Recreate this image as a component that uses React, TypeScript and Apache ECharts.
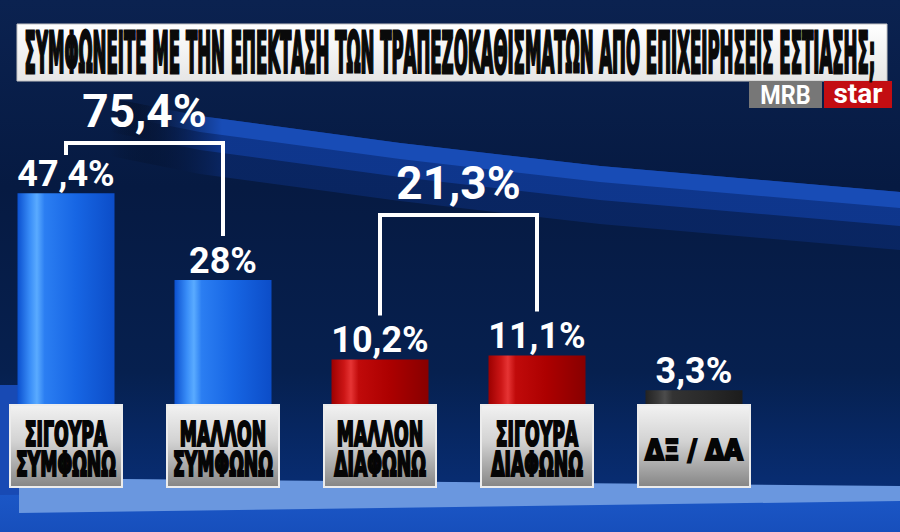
import React, { useEffect, useRef } from "react";
import * as echarts from "echarts";

const titleText = "ΣΥΜΦΩΝΕΙΤΕ ΜΕ ΤΗΝ ΕΠΕΚΤΑΣΗ ΤΩΝ ΤΡΑΠΕΖΟΚΑΘΙΣΜΑΤΩΝ ΑΠΟ ΕΠΙΧΕΙΡΗΣΕΙΣ ΕΣΤΙΑΣΗΣ;";
const categories = ["ΣΙΓΟΥΡΑ\nΣΥΜΦΩΝΩ", "ΜΑΛΛΟΝ\nΣΥΜΦΩΝΩ", "ΜΑΛΛΟΝ\nΔΙΑΦΩΝΩ", "ΣΙΓΟΥΡΑ\nΔΙΑΦΩΝΩ", "ΔΞ / ΔΑ"];
const values = [47.4, 28, 10.2, 11.1, 3.3];
const groupMembers = [[0, 1], [2, 3]];
const groupTotals = [75.4, 21.3];
const logoParts = ["MRB", "star"];

const barPalette = ["blue", "blue", "red", "red", "dark"];
const gradientStops: Record<string, string[]> = {
  blue: ["#0b50cf", "#3a8ef8", "#5aabff", "#2b7ef2", "#1766e4", "#0c4dc8"],
  red: ["#9c0000", "#cc1616", "#e63434", "#c00a0a", "#ac0000", "#880000"],
  dark: ["#222222", "#3a3a3a", "#4c4c4c", "#333333", "#2a2a2a", "#1c1c1c"],
};
const stopPos = [0, 0.13, 0.2, 0.28, 0.6, 1];

const fmt = (v: number) => `${String(v).replace(".", ",")}%`;

const barColor = (key: string) => ({
  type: "linear",
  x: 0,
  y: 0,
  x2: 1,
  y2: 0,
  colorStops: gradientStops[key].map((c, i) => ({ offset: stopPos[i], color: c })),
});

export default function App() {
  const ref = useRef<HTMLDivElement>(null);

  useEffect(() => {
    document.body.style.margin = "0";
    const chart = echarts.init(ref.current!, null, { renderer: "svg" });

    const valueFont = "Roboto, 'DejaVu Sans', sans-serif";

    chart.setOption({
      animation: false,
      backgroundColor: {
        type: "linear",
        x: 0,
        y: 0,
        x2: 0,
        y2: 1,
        colorStops: [
          { offset: 0, color: "#0b2250" },
          { offset: 0.35, color: "#061a42" },
          { offset: 0.7, color: "#06204f" },
          { offset: 0.9, color: "#082c70" },
          { offset: 1, color: "#0a3280" },
        ],
      },
      grid: { left: -12.5, right: 127.5, top: 137, bottom: 127, outerBoundsMode: "none" },
      xAxis: { type: "category", data: categories, show: false },
      yAxis: { type: "value", min: 0, max: 60, show: false },
      series: [
        {
          type: "bar",
          barWidth: 97,
          z: 2,
          data: values.map((v, i) => ({ value: v, itemStyle: { color: barColor(barPalette[i]) } })),
          label: {
            show: true,
            position: "top",
            distance: 1,
            color: "#ffffff",
            fontFamily: valueFont,
            fontWeight: "bold",
            fontSize: 36,
            formatter: (p: any) => fmt(p.value),
          },
        },
      ],
    });

    const ctx = document.createElement("canvas").getContext("2d")!;
    const measure = (t: string, font: string) => {
      ctx.font = font;
      return ctx.measureText(t).width;
    };

    const px = (i: number, v: number) => chart.convertToPixel({ seriesIndex: 0 }, [i, v]) as number[];
    const base = px(0, 0)[1];

    const g: any[] = [];

    // background swoosh band
    const topEdge: number[][] = [
      [110, 98],
      [200, 116],
      [400, 143],
      [600, 166],
      [900, 192],
      [910, 193],
    ];
    const band = (thick: number, color: string, z: number) => {
      const pts = topEdge.map((p) => [p[0], p[1]]).concat(
        topEdge
          .slice()
          .reverse()
          .map((p) => [p[0], p[1] + thick])
      );
      g.push({
        type: "polygon",
        z,
        silent: true,
        shape: { points: pts },
        style: {
          fill: {
            type: "linear",
            x: 0,
            y: 0,
            x2: 1,
            y2: 0,
            colorStops: [
              { offset: 0, color: "rgba(0,0,0,0)" },
              { offset: 0.14, color },
              { offset: 1, color },
            ],
          },
        },
      });
    };
    band(58, "rgba(10,40,105,0.8)", 0);
    band(34, "rgba(15,56,145,0.9)", 0);
    band(16, "rgba(24,76,182,1)", 0);

    // bottom floor
    g.push({ type: "rect", z: 0, silent: true, shape: { x: 0, y: 385, width: 19, height: 147 }, style: { fill: "#184ab4" } });
    g.push({
      type: "polygon",
      z: 0,
      silent: true,
      shape: { points: [[0, 495], [900, 488], [900, 532], [0, 532]] },
      style: {
        fill: {
          type: "linear",
          x: 0,
          y: 0,
          x2: 0,
          y2: 1,
          colorStops: [
            { offset: 0, color: "#1c58c8" },
            { offset: 1, color: "#174fbc" },
          ],
        },
      },
    });
    g.push({
      type: "polygon",
      z: 0,
      silent: true,
      shape: { points: [[19, 478], [900, 486], [900, 501], [19, 513]] },
      style: { fill: "#6a97df" },
    });

    // title bar
    g.push({
      type: "rect",
      z: 10,
      shape: { x: 17, y: 24, width: 870, height: 57 },
      style: {
        fill: {
          type: "linear",
          x: 0,
          y: 0,
          x2: 0,
          y2: 1,
          colorStops: [
            { offset: 0, color: "#ffffff" },
            { offset: 1, color: "#e6e6e6" },
          ],
        },
        stroke: "#c4c4c4",
        lineWidth: 1,
      },
    });
    const titleFont = "bold 56px 'DejaVu Sans Condensed', 'DejaVu Sans', sans-serif";
    const titleScale = 852 / measure(titleText, titleFont);
    g.push({
      type: "text",
      z: 11,
      x: 450,
      y: 54,
      scaleX: titleScale,
      style: {
        text: titleText,
        font: titleFont,
        fill: "#0a0a0a",
        stroke: "#0a0a0a",
        lineWidth: 3,
        align: "center",
        verticalAlign: "middle",
        textAlign: "center",
        textVerticalAlign: "middle",
      },
    });

    // logo
    g.push({ type: "rect", z: 10, shape: { x: 749, y: 81, width: 73, height: 27 }, style: { fill: "#777777" } });
    g.push({ type: "rect", z: 10, shape: { x: 824, y: 81, width: 68, height: 27 }, style: { fill: "#c30d12" } });
    g.push({
      type: "text",
      z: 11,
      x: 785.5,
      y: 95,
      scaleX: 0.9,
      style: {
        text: logoParts[0],
        font: "bold 26px Roboto, sans-serif",
        fill: "#ffffff",
        align: "center",
        verticalAlign: "middle",
        textAlign: "center",
        textVerticalAlign: "middle",
      },
    });
    g.push({
      type: "text",
      z: 11,
      x: 858,
      y: 93,
      style: {
        text: logoParts[1],
        font: "bold 28px Roboto, sans-serif",
        fill: "#ffffff",
        align: "center",
        verticalAlign: "middle",
        textAlign: "center",
        textVerticalAlign: "middle",
      },
    });

    // category label boxes
    const boxFont = "bold 33px 'DejaVu Sans Condensed', 'DejaVu Sans', sans-serif";
    const boxScale = 100 / measure("ΣΥΜΦΩΝΩ", boxFont);
    const oneLineFont = "bold 28px 'DejaVu Sans', sans-serif";
    categories.forEach((cat, i) => {
      const cx = px(i, 0)[0];
      g.push({
        type: "rect",
        z: 10,
        shape: { x: cx - 56, y: base, width: 112, height: 82 },
        style: {
          fill: {
            type: "linear",
            x: 0,
            y: 0,
            x2: 0,
            y2: 1,
            colorStops: [
              { offset: 0, color: "#f2f2f2" },
              { offset: 0.45, color: "#d2d2d2" },
              { offset: 1, color: "#858585" },
            ],
          },
          stroke: "#ececec",
          lineWidth: 2,
        },
      });
      const twoLine = cat.includes("\n");
      const sc = twoLine ? boxScale : 98 / measure(cat, oneLineFont);
      g.push({
        type: "text",
        z: 11,
        x: cx,
        y: base + (twoLine ? 44 : 45),
        scaleX: sc,
        style: {
          text: cat,
          font: twoLine ? boxFont : oneLineFont,
          lineHeight: 30,
          fill: "#050505",
          stroke: "#050505",
          lineWidth: 2.2,
          align: "center",
          verticalAlign: "middle",
          textAlign: "center",
          textVerticalAlign: "middle",
        },
      });
    });

    // brackets with totals
    const bracketY = [143, 215];
    groupMembers.forEach((members, gi) => {
      const pts = members.map((i) => {
        const p = px(i, values[i]);
        const labelTop = p[1] - 30;
        return [p[0], Math.max(bracketY[gi] + 12, labelTop - 14)];
      });
      const y0 = bracketY[gi];
      g.push({
        type: "polyline",
        z: 10,
        shape: {
          points: [
            [pts[0][0], pts[0][1]],
            [pts[0][0], y0],
            [pts[1][0], y0],
            [pts[1][0], pts[1][1]],
          ],
        },
        style: { stroke: "#ffffff", lineWidth: 4, fill: null },
      });
      g.push({
        type: "text",
        z: 11,
        x: (pts[0][0] + pts[1][0]) / 2,
        y: y0 - 32,
        style: {
          text: fmt(groupTotals[gi]),
          font: "bold 46px Roboto, sans-serif",
          fill: "#ffffff",
          align: "center",
          verticalAlign: "middle",
          textAlign: "center",
          textVerticalAlign: "middle",
        },
      });
    });

    chart.setOption({ graphic: { elements: g } });

    return () => chart.dispose();
  }, []);

  return <div ref={ref} style={{ width: 900, height: 532 }} />;
}
